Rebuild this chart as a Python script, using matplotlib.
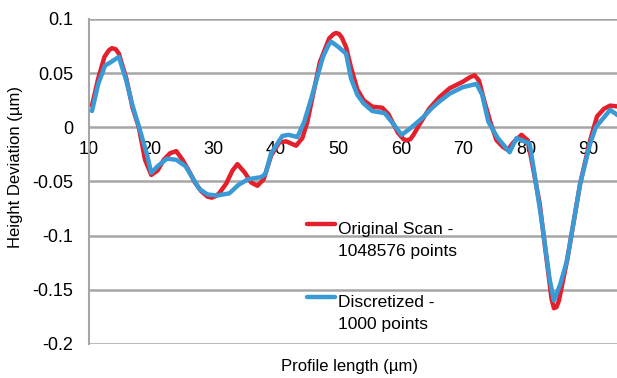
import matplotlib
matplotlib.use("Agg")
import matplotlib.pyplot as plt

plt.rcParams['font.family'] = ['Liberation Sans', 'DejaVu Sans']
plt.rcParams['axes.unicode_minus'] = False

# Original scan (1048576 points)
orig_x = [10.5, 11.5, 12.5, 13.2, 13.7, 14.3, 14.8, 16, 17, 18, 19, 20, 21, 22, 23, 24, 25, 26,
          27, 28, 29, 29.7, 30.5, 31, 32, 33, 33.8, 35, 36, 37, 38, 39.2, 40.5, 41.6, 43.2,
          44.2, 45, 45.8, 47, 48.5, 49.2, 49.6, 50.1, 50.5, 51.2, 52, 53, 54, 55.4, 57, 58,
          59.5, 60.4, 60.9, 61.5, 62, 63, 64.5, 66.2, 67.8, 69.9, 71, 71.8, 72.5, 73.4, 74.3,
          75.3, 76.3, 77.1, 78, 79.3, 80.3, 80.9, 82.2, 83.5, 84.1, 84.5, 84.9, 85.3, 86.6, 88.7,
          90.3, 91.4, 92.5, 93.5, 95]
orig_y = [0.020, 0.045, 0.065, 0.071, 0.073, 0.072, 0.068, 0.045, 0.018, 0.0, -0.030, -0.044,
          -0.040, -0.030, -0.024, -0.022, -0.030, -0.040, -0.051, -0.059, -0.064, -0.065, -0.063,
          -0.060, -0.052, -0.040, -0.034, -0.042, -0.051, -0.054, -0.048, -0.026,
          -0.014, -0.013, -0.017, -0.010, 0.005, 0.027, 0.060, 0.082, 0.086, 0.087, 0.086, 0.083,
          0.074, 0.055, 0.035, 0.025, 0.019, 0.018, 0.012, -0.005, -0.011, -0.012, -0.011, -0.007,
          0.003, 0.017, 0.028, 0.036, 0.042, 0.046, 0.048, 0.043, 0.023, 0.005,
          -0.012, -0.018, -0.021, -0.014, -0.007, -0.012, -0.030, -0.070, -0.130, -0.158, -0.167,
          -0.166, -0.160, -0.123, -0.052, -0.012, 0.010, 0.017, 0.020, 0.019]

# Discretized profile (1000 points)
disc_x = [10.5, 11.5, 12.6, 13.5, 14.8, 16, 17, 18.3, 19.3, 20, 21, 22.5, 24, 25.5,
          27.7, 29, 30.5, 32.5, 34, 35.5, 37.6, 38.3, 39.2, 41, 42, 43.4, 44.5,
          45.8, 47.5, 48.4, 48.8, 49.3, 50, 51.2, 52, 53, 54, 55.4, 57.4, 58.5, 60.1, 61.5,
          63.5, 65, 66.2, 67.8, 69.9, 72.1, 73, 74, 75.5, 77.4, 78.5, 80.6, 81.3,
          82.5, 83.8, 84.5, 85.5, 86.6, 88.7, 90.3, 91.2, 93.5, 95]
disc_y = [0.015, 0.040, 0.057, 0.060, 0.065, 0.043, 0.020, -0.005, -0.025, -0.042,
          -0.036, -0.029, -0.030, -0.036, -0.057, -0.062, -0.063, -0.061, -0.053,
          -0.048, -0.046, -0.043, -0.024, -0.008, -0.007, -0.009, 0.005, 0.030,
          0.065, 0.076, 0.079, 0.077, 0.074, 0.068, 0.045, 0.030, 0.022, 0.015, 0.013, 0.005,
          -0.007, -0.001, 0.009, 0.018, 0.024, 0.031, 0.037, 0.040, 0.030, 0.005,
          -0.010, -0.023, -0.010, -0.015, -0.040, -0.085, -0.140, -0.160, -0.145,
          -0.123, -0.052, -0.015, 0.000, 0.016, 0.010]

x_ticks = [10, 20, 30, 40, 50, 60, 70, 80, 90]
y_ticks = [-0.2, -0.15, -0.1, -0.05, 0, 0.05, 0.1]
y_tick_labels = ['-0.2', '-0.15', '-0.1', '-0.05', '0', '0.05', '0.1']

labels = ['Original Scan -\n1048576 points', 'Discretized -\n1000 points']
red = '#E3202C'
blue = '#3A9AD6'
grid_gray = '#A6A6A6'

fig = plt.figure(figsize=(6.17, 3.78), dpi=100)
ax = fig.add_axes([0.144, 0.090, 0.856, 0.860])

ax.plot(orig_x, orig_y, color=red, lw=3.2, solid_capstyle='round',
        solid_joinstyle='round', zorder=3)
ax.plot(disc_x, disc_y, color=blue, lw=3.2, solid_capstyle='round',
        solid_joinstyle='round', zorder=4)

ax.set_xlim(10, 94.6)
ax.set_ylim(-0.2, 0.1)
ax.set_xticks(x_ticks)
ax.set_yticks(y_ticks)
ax.set_yticklabels(y_tick_labels)
ax.tick_params(axis='both', length=0, labelsize=13)
ax.tick_params(axis='x', pad=10)
ax.tick_params(axis='y', pad=11)

ax.grid(axis='y', color=grid_gray, lw=1.8)
ax.set_axisbelow(True)
for side in ['top', 'right', 'bottom']:
    ax.spines[side].set_visible(False)
ax.spines['left'].set_color(grid_gray)
ax.spines['left'].set_linewidth(1.5)
# x tick labels sit under the zero line
ax.spines['bottom'].set_position(('data', 0))

ax.set_ylabel('Height Deviation (µm)', fontsize=12)
ax.yaxis.set_label_coords(-0.124, 0.545)
ax.set_xlabel('Profile length (µm)', fontsize=12)
ax.xaxis.set_label_coords(0.494, -0.045)

# legend drawn by hand so the line sits on the first text line
for color, label, ly in zip([red, blue], labels, [0.369, 0.145]):
    ax.plot([0.413, 0.466], [ly, ly], color=color, lw=3.2, transform=ax.transAxes,
            clip_on=False, solid_capstyle='round')
    ax.text(0.472, ly + 0.005, label, transform=ax.transAxes, fontsize=12.5,
            va='top', ha='left', linespacing=1.55)

fig.savefig('out.png', dpi=100)
